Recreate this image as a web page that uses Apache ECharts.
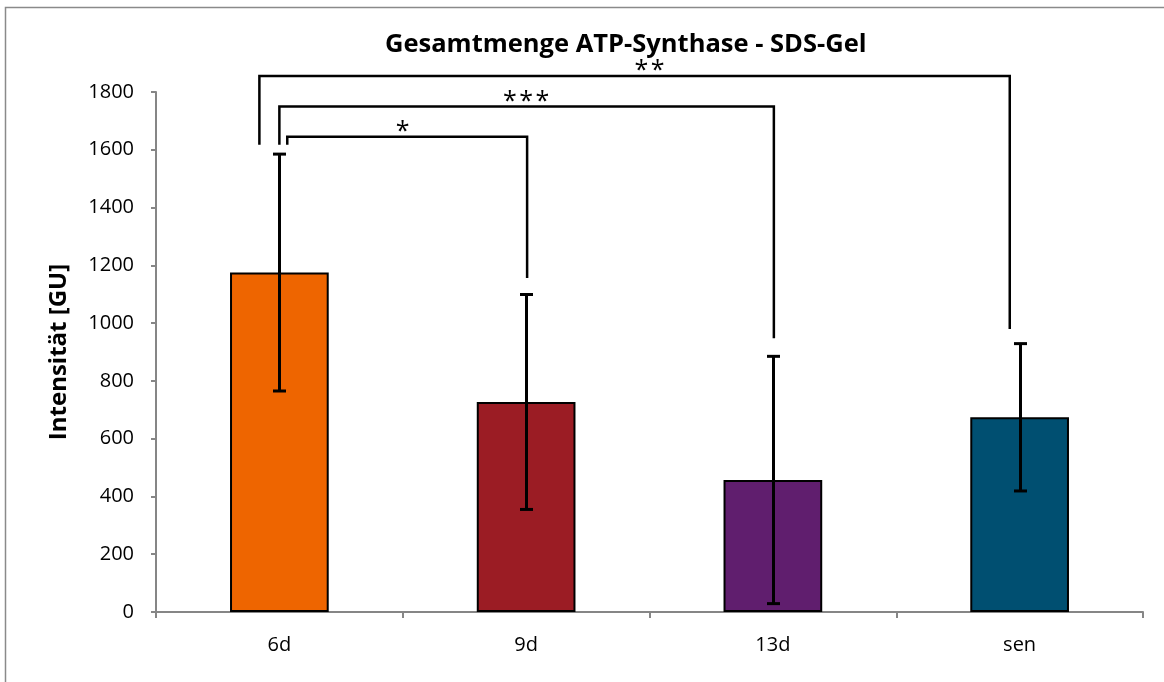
<!DOCTYPE html>
<html>
<head>
<meta charset="utf-8">
<script src="https://cdn.jsdelivr.net/npm/echarts@6/dist/echarts.min.js"></script>
<style>
html,body{margin:0;padding:0;background:#fff;}
#chart{width:1164px;height:682px;}
</style>
</head>
<body>
<div id="chart"></div>
<script>
// ---- data ----
const categories = ['6d', '9d', '13d', 'sen'];
const means = [1175, 727, 457, 674];
const errors = [410, 372, 428, 255];
const yMin = 0, yMax = 1800, yInterval = 200;
const titleText = 'Gesamtmenge ATP-Synthase - SDS-Gel';
const yAxisName = 'Intensität [GU]';
// significance brackets: from category, to category, top value, leg ends, label
const bracketFrom = [0, 0, 0];
const bracketTo = [1, 2, 3];
const bracketTop = [1645, 1750, 1855];
const bracketLeftEnd = [1617, 1617, 1617];
const bracketRightEnd = [1156, 948, 980];
const bracketLabels = ['*', '*\u200A*\u200A*', '*\u200A*'];

// ---- styles ----
const barColors = ['#EE6500', '#9B1C24', '#601E6E', '#004F71'];
const bracketLeftShift = [0.032, 0, -0.081];   // fraction of category band
const bracketRightShift = [0.004, 0.004, -0.04];
const FONT = '"Open Sans", "Noto Sans", sans-serif';

const chart = echarts.init(document.getElementById('chart'));

const errData = categories.map((c, i) => [i, means[i] - errors[i], means[i] + errors[i]]);
const bracketData = bracketFrom.map((f, i) => [f, bracketTo[i], bracketTop[i], bracketLeftEnd[i], bracketRightEnd[i], i]);

chart.setOption({
  animation: false,
  backgroundColor: '#fff',
  graphic: [{
    type: 'polyline',
    shape: { points: [[5.5, 690], [5.5, 7.5], [1170, 7.5]] },
    style: { stroke: '#8a8a8a', lineWidth: 1.5, fill: null },
    silent: true
  }],
  title: {
    text: titleText,
    left: 380,
    top: 27,
    textStyle: { fontFamily: FONT, fontSize: 25.5, fontWeight: 'bold', color: '#000' }
  },
  grid: { left: 156, right: 21, top: 92, bottom: 70, containLabel: false },
  xAxis: {
    type: 'category',
    data: categories,
    axisLine: { lineStyle: { color: '#868686', width: 2 } },
    axisTick: { show: true, length: 6, lineStyle: { color: '#868686', width: 2 } },
    axisLabel: { color: '#000', fontFamily: FONT, fontSize: 20, margin: 23 },
    splitLine: { show: false }
  },
  yAxis: {
    type: 'value',
    min: yMin, max: yMax, interval: yInterval,
    name: yAxisName,
    nameLocation: 'middle',
    nameGap: 85,
    nameTextStyle: { fontFamily: FONT, fontSize: 24, fontWeight: 'bold', color: '#000' },
    axisLine: { show: true, lineStyle: { color: '#868686', width: 2 } },
    axisTick: { show: true, length: 5, lineStyle: { color: '#868686', width: 2 } },
    axisLabel: { color: '#000', fontFamily: FONT, fontSize: 20, margin: 22, formatter: function (v) { return String(v); } },
    splitLine: { show: false }
  },
  series: [
    {
      type: 'bar',
      barWidth: '40%',
      data: means.map((v, i) => ({
        value: v,
        itemStyle: { color: barColors[i], borderColor: '#000', borderWidth: 2 }
      })),
      z: 2
    },
    {
      type: 'custom',
      z: 3,
      clip: false,
      data: errData,
      renderItem: function (params, api) {
        const lo = api.coord([api.value(0), api.value(1)]);
        const hi = api.coord([api.value(0), api.value(2)]);
        const x = Math.round(lo[0]) + 0.5;
        const cap = 6.5;
        const st = { stroke: '#000', lineWidth: 3 };
        return {
          type: 'group',
          children: [
            { type: 'line', shape: { x1: x, y1: hi[1], x2: x, y2: lo[1] }, style: st },
            { type: 'line', shape: { x1: x - cap, y1: hi[1], x2: x + cap, y2: hi[1] }, style: st },
            { type: 'line', shape: { x1: x - cap, y1: lo[1], x2: x + cap, y2: lo[1] }, style: st }
          ]
        };
      }
    },
    {
      type: 'custom',
      z: 4,
      clip: false,
      data: bracketData,
      renderItem: function (params, api) {
        const idx = api.value(5);
        const band = api.size([1, 0])[0];
        const cL = api.coord([api.value(0), 0])[0];
        const cR = api.coord([api.value(1), 0])[0];
        const xL = cL + bracketLeftShift[idx] * band;
        const xR = cR + bracketRightShift[idx] * band;
        const yT = api.coord([0, api.value(2)])[1];
        const yL = api.coord([0, api.value(3)])[1];
        const yR = api.coord([0, api.value(4)])[1];
        return {
          type: 'group',
          children: [
            {
              type: 'polyline',
              shape: { points: [[xL, yL], [xL, yT], [xR, yT], [xR, yR]] },
              style: { stroke: '#000', lineWidth: 2.5, fill: null }
            },
            {
              type: 'text',
              style: {
                text: bracketLabels[idx],
                x: (cL + cR) / 2,
                y: yT - 5,
                align: 'center',
                verticalAlign: 'middle',
                fontFamily: FONT,
                fontSize: 25,
                fill: '#000'
              }
            }
          ]
        };
      }
    }
  ]
});
</script>
</body>
</html>
